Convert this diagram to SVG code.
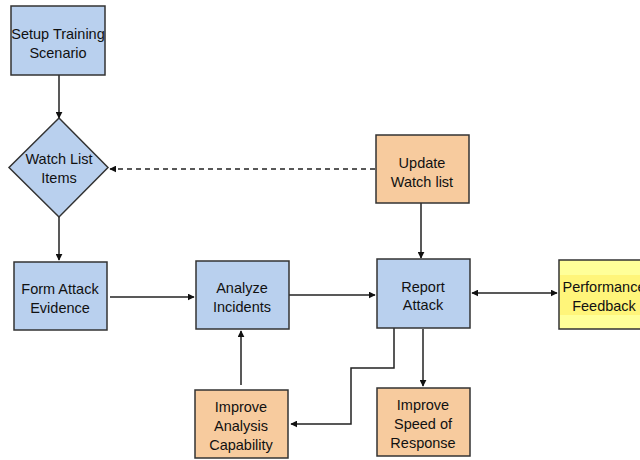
<svg xmlns="http://www.w3.org/2000/svg" width="640" height="460" viewBox="0 0 640 460">
<style>
.blue{fill:#B9D0EE;stroke:#333;stroke-width:1.5}
.orange{fill:#F7CB9E;stroke:#333;stroke-width:1.5}
.yellow{fill:#FFFF99;stroke:#333;stroke-width:1.5}
text{font-family:"Liberation Sans",Arial,sans-serif;font-size:14.5px;fill:#111;text-anchor:middle}
.c{fill:none;stroke:#222;stroke-width:1.5}
.d{stroke-dasharray:5,4}
</style>
<defs>
<marker id="ah" viewBox="0 0 10 10" refX="9" refY="5" markerWidth="7" markerHeight="7" orient="auto-start-reverse" markerUnits="userSpaceOnUse">
<path d="M0,0 L10,5 L0,10 z" fill="#111"/>
</marker>
</defs>
<rect width="640" height="460" fill="#fff"/>
<g id="connectors">
<line class="c" x1="59" y1="75" x2="59" y2="118" marker-end="url(#ah)"/>
<line class="c d" x1="375" y1="169" x2="110" y2="169" marker-end="url(#ah)"/>
<line class="c" x1="59" y1="217" x2="59" y2="260" marker-end="url(#ah)"/>
<line class="c" x1="110" y1="297" x2="194" y2="297" marker-end="url(#ah)"/>
<line class="c" x1="289" y1="295" x2="375" y2="295" marker-end="url(#ah)"/>
<line class="c" x1="421" y1="203" x2="421" y2="258" marker-end="url(#ah)"/>
<line class="c" x1="472" y1="293" x2="557" y2="293" marker-start="url(#ah)" marker-end="url(#ah)"/>
<line class="c" x1="241" y1="385" x2="241" y2="331" marker-end="url(#ah)"/>
<polyline class="c" points="394,328 394,368 351,368 351,424 291,424" marker-end="url(#ah)"/>
<line class="c" x1="423" y1="329" x2="423" y2="386" marker-end="url(#ah)"/>
</g>
<g id="setup">
<rect class="blue" x="11" y="6" width="94" height="69"/>
<text x="58" y="39">Setup Training</text>
<text x="58" y="58">Scenario</text>
</g>
<g id="watchlist">
<polygon class="blue" points="59,118 108,167.5 59,217 9,167.5"/>
<text x="59" y="164">Watch List</text>
<text x="59" y="183">Items</text>
</g>
<g id="update">
<rect class="orange" x="376" y="135" width="93" height="68"/>
<text x="422" y="168">Update</text>
<text x="422" y="187">Watch list</text>
</g>
<g id="form">
<rect class="blue" x="14" y="262" width="93" height="68"/>
<text x="60" y="294">Form Attack</text>
<text x="60" y="313">Evidence</text>
</g>
<g id="analyze">
<rect class="blue" x="196" y="261" width="93" height="68"/>
<text x="242" y="293">Analyze</text>
<text x="242" y="312">Incidents</text>
</g>
<g id="report">
<rect class="blue" x="377" y="259" width="93" height="69"/>
<text x="423" y="292">Report</text>
<text x="423" y="310">Attack</text>
</g>
<g id="performance">
<rect class="yellow" x="559" y="260" width="90" height="69"/>
<rect x="560" y="275" width="80" height="40" fill="#FFF57A"/>
<text x="604" y="292">Performance</text>
<text x="604" y="311">Feedback</text>
</g>
<g id="improveanalysis">
<rect class="orange" x="195" y="390" width="93" height="68"/>
<text x="241" y="412">Improve</text>
<text x="241" y="431">Analysis</text>
<text x="241" y="450">Capability</text>
</g>
<g id="improvespeed">
<rect class="orange" x="377" y="388" width="93" height="68"/>
<text x="423" y="410">Improve</text>
<text x="423" y="429">Speed of</text>
<text x="423" y="448">Response</text>
</g>
</svg>
